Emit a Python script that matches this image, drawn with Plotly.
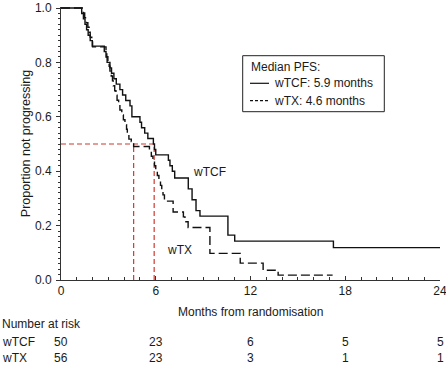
import plotly.graph_objects as go

# ---------------- data ----------------
tcf_months = [0, 1.31, 1.42, 1.52, 1.62, 1.72, 1.85, 1.98, 2.74, 2.85, 2.92, 3.1, 3.2, 3.35, 3.5,
              3.73, 3.9, 4.1, 4.37, 4.49, 5.0, 5.1, 5.3, 5.5, 5.85, 5.92, 6.0, 6.8, 6.9, 7.05,
              7.2, 8.06, 8.3, 8.55, 8.8, 10.57, 11.0, 17.25, 24]
tcf_surv = [1.0, 0.98, 0.96, 0.94, 0.92, 0.90, 0.88, 0.86, 0.84, 0.82, 0.80, 0.78, 0.76, 0.74, 0.72,
            0.70, 0.68, 0.66, 0.64, 0.60, 0.58, 0.56, 0.54, 0.52, 0.50, 0.48, 0.46, 0.44, 0.42, 0.40,
            0.375, 0.335, 0.295, 0.255, 0.235, 0.165, 0.143, 0.119, 0.119]

tx_months = [0, 1.41, 1.5, 1.6, 1.7, 1.78, 1.85, 1.95, 2.0, 2.85, 2.9, 2.97, 3.05, 3.1, 3.18,
             3.26, 3.31, 3.4, 3.48, 3.55, 3.65, 3.73, 3.85, 3.95, 4.05, 4.15, 4.2, 4.3, 4.45,
             4.6, 5.6, 5.72, 5.82, 5.92, 6.0, 6.1, 6.2, 6.3, 6.38, 6.46, 6.55, 7.1, 7.75,
             7.85, 8.05, 9.43, 11.35, 12.8, 13.75, 17.2]
tx_surv = [1.0, 0.982, 0.964, 0.946, 0.929, 0.911, 0.893, 0.875, 0.857, 0.839, 0.821, 0.804, 0.786,
           0.768, 0.75, 0.732, 0.714, 0.696, 0.679, 0.661, 0.643, 0.625, 0.607, 0.589, 0.571,
           0.554, 0.536, 0.518, 0.509, 0.491, 0.473, 0.455, 0.437, 0.42, 0.402, 0.384, 0.366,
           0.348, 0.33, 0.313, 0.29, 0.25, 0.232, 0.214, 0.193, 0.098, 0.062, 0.036, 0.018, 0.018]

median_tcf = 5.9
median_tx = 4.6

risk_months = [0, 6, 12, 18, 24]
risk_tcf = [50, 23, 6, 5, 5]
risk_tx = [56, 23, 3, 1, 1]

x_ticks = [0, 6, 12, 18, 24]
y_ticks = [0.0, 0.2, 0.4, 0.6, 0.8, 1.0]
y_tick_labels = ["0.0", "0.2", "0.4", "0.6", "0.8", "1.0"]

# ---------------- layout constants ----------------
FONT = "Liberation Sans, Arial, Helvetica, sans-serif"
TXT = "#1a1a1a"
RED = "#d0382f"
L, T, W, H = 61, 7, 379, 273


def px(xp):
    return (xp - L) / W


def py(yp):
    return (T + H - yp) / H


fig = go.Figure()

# median reference lines (red dashed)
red_line = dict(color=RED, width=1.2, dash="5px,3px")
fig.add_trace(go.Scatter(x=[0, median_tcf], y=[0.5, 0.5], mode="lines", line=red_line,
                         showlegend=False, hoverinfo="skip"))
fig.add_trace(go.Scatter(x=[median_tx, median_tx], y=[0, 0.5], mode="lines", line=red_line,
                         showlegend=False, hoverinfo="skip"))
fig.add_trace(go.Scatter(x=[median_tcf, median_tcf], y=[0, 0.5], mode="lines", line=red_line,
                         showlegend=False, hoverinfo="skip"))

fig.add_trace(go.Scatter(x=tcf_months, y=tcf_surv, mode="lines", name="wTCF",
                         line=dict(shape="hv", color="#111111", width=1.4), showlegend=False))
fig.add_trace(go.Scatter(x=tx_months, y=tx_surv, mode="lines", name="wTX",
                         line=dict(shape="hv", color="#111111", width=1.4, dash="9px,4px"),
                         showlegend=False))

annotations = []


def ann(text, x, y, xref="paper", yref="paper", xanchor="center", yanchor="middle", **kw):
    annotations.append(dict(text=text, x=x, y=y, xref=xref, yref=yref, xanchor=xanchor,
                            yanchor=yanchor, showarrow=False,
                            font=dict(family=FONT, size=12, color=TXT), **kw))


# x-axis title
ann("Months from randomisation", 0.5, 0, yshift=-32)

# curve labels
ann("wTCF", 9.43, 0.397, xref="x", yref="y")
ann("wTX", 7.53, 0.11, xref="x", yref="y")

# number at risk table
ann("Number at risk", px(0), 0, xanchor="left", yshift=-43.5)
ann("wTCF", px(0), 0, xanchor="left", yshift=-61.7)
ann("wTX", px(0), 0, xanchor="left", yshift=-78.3)
for m, a, b in zip(risk_months, risk_tcf, risk_tx):
    ann(str(a), m, 0, xref="x", yshift=-61.7)
    ann(str(b), m, 0, xref="x", yshift=-78.3)

# custom legend box
ann("Median PFS:", px(249), py(66.7), xanchor="left")
ann("wTCF: %.1f months" % median_tcf, px(272), py(83.3), xanchor="left")
ann("wTX: %.1f months" % median_tx, px(272), py(100.7), xanchor="left")

shapes = [
    dict(type="rect", xref="paper", yref="paper", x0=px(242.7), x1=px(384.3),
         y0=py(111.7), y1=py(55.7), line=dict(color="#222222", width=1)),
    dict(type="line", xref="paper", yref="paper", x0=px(250), x1=px(269),
         y0=py(83.3), y1=py(83.3), line=dict(color="#111111", width=1.2)),
    dict(type="line", xref="paper", yref="paper", x0=px(250), x1=px(269),
         y0=py(100.7), y1=py(100.7), line=dict(color="#111111", width=1.2, dash="3px,2px")),
]

fig.update_layout(
    width=446, height=366,
    margin=dict(l=L, r=446 - L - W, t=T, b=366 - T - H, pad=0),
    paper_bgcolor="white", plot_bgcolor="white",
    font=dict(family=FONT, size=12, color=TXT),
    annotations=annotations, shapes=shapes,
    xaxis=dict(range=[0, 24], tickvals=x_ticks, ticks="inside", ticklen=4, tickwidth=1,
               tickcolor="#333333", showline=True, linecolor="#333333", linewidth=1,
               showgrid=False, zeroline=False, automargin=False, ticklabeloverflow="allow",
               tickfont=dict(family=FONT, size=12, color=TXT),
               minor=dict(tick0=0, dtick=1, ticks="inside", ticklen=3, tickcolor="#333333",
                          showgrid=False)),
    yaxis=dict(range=[0, 1.0037], tickvals=y_ticks, ticktext=y_tick_labels, ticks="outside",
               ticklen=4, tickwidth=1, tickcolor="#333333", showline=True, linecolor="#333333",
               linewidth=1, showgrid=False, zeroline=False, ticklabelstandoff=2,
               automargin=False, ticklabeloverflow="allow",
               title=dict(text="Proportion not progressing", standoff=1,
                          font=dict(family=FONT, size=12.5, color=TXT)),
               tickfont=dict(family=FONT, size=12, color=TXT),
               minor=dict(tick0=0, dtick=0.02, ticks="outside", ticklen=2, tickcolor="#333333",
                          showgrid=False)),
)

fig.write_html("out.html", config={"displayModeBar": False},
               post_script="document.body.style.margin='0';document.body.style.overflow='hidden';")
